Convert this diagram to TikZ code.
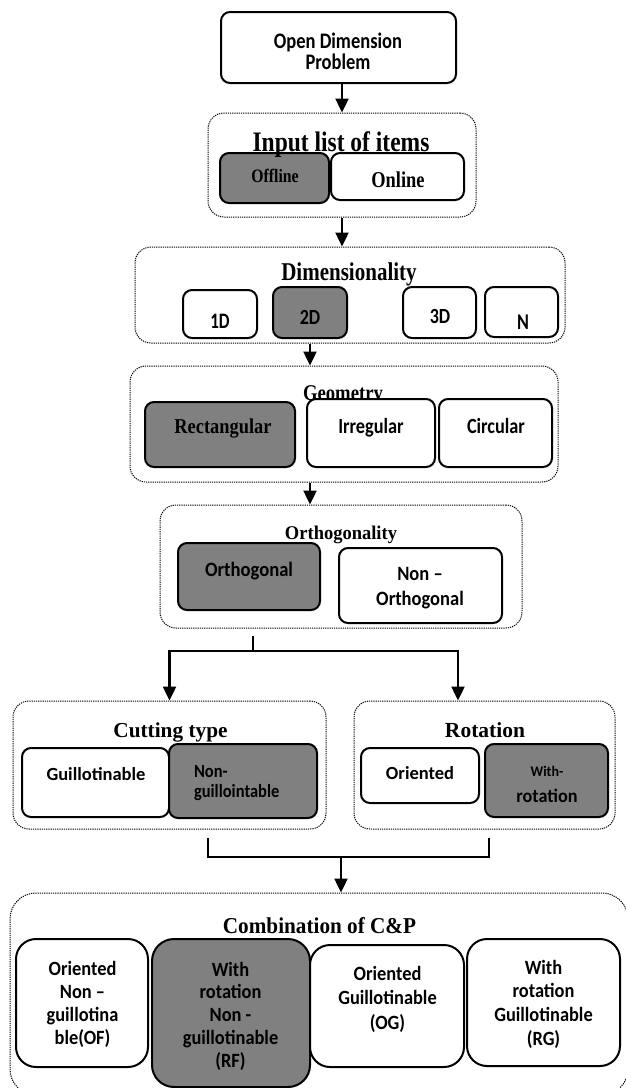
\documentclass[tikz,border=0pt]{standalone}
\usepackage{fontspec}
\usepackage{graphicx}
\setmainfont{Liberation Serif}
\newfontfamily\calfont{Carlito}
\usetikzlibrary{arrows.meta}
\definecolor{boxgray}{RGB}{128,128,128}
\newcommand{\vt}[2]{\scalebox{1}[#1]{\begin{tabular}[t]{@{}c@{}}#2\end{tabular}}}
\newcommand{\vl}[2]{\scalebox{1}[#1]{\begin{tabular}[t]{@{}l@{}}#2\end{tabular}}}
\newcommand{\fs}[2]{\fontsize{#1}{#2}\selectfont}
\tikzset{
  grp/.style={draw, line width=1pt, dash pattern=on 1.2pt off 1pt, rounded corners=16pt, inner sep=0pt},
  solidbox/.style={draw, line width=2pt, rounded corners=9pt, fill=white, inner sep=0pt},
  graybox/.style={solidbox, fill=boxgray},
  bigbox/.style={solidbox, rounded corners=20pt},
  biggray/.style={graybox, rounded corners=22pt},
  conn/.style={line width=2.4pt, -{Triangle[width=13pt,length=14pt]}},
  plainline/.style={line width=2pt},
  txt/.style={inner sep=0pt, outer sep=0pt, anchor=base},
}
\begin{document}
\begin{tikzpicture}[x=1pt,y=-1pt]
\useasboundingbox (0,0) rectangle (626,1088);
\clip (0,0) rectangle (626,1088);

% containers
\node[grp, minimum width=268pt, minimum height=104pt] (c1) at (342,165) {};
\node[grp, minimum width=430pt, minimum height=96pt] (c2) at (350,295) {};
\node[grp, minimum width=428pt, minimum height=116pt] (c3) at (344,424) {};
\node[grp, minimum width=362pt, minimum height=123pt] (c4) at (341,566.5) {};
\node[grp, minimum width=313pt, minimum height=128pt] (c5) at (169.5,765) {};
\node[grp, minimum width=261pt, minimum height=128pt] (c6) at (484.5,765) {};
\node[grp, rounded corners=26pt, minimum width=618pt, minimum height=202pt] (c7) at (319,994) {};

% container titles (under the boxes)
\node[txt, font=\bfseries\fs{21}{25}] (t2) at (349,280) {\vt{1.22}{Dimensionality}};
\node[txt, font=\bfseries\fs{18.7}{22}] (t3) at (343,400) {\vt{1.2}{Geometry}};
\node[txt, font=\bfseries\fs{18.5}{22}] (t4) at (341,539) {\vt{1.05}{Orthogonality}};
\node[txt, font=\bfseries\fs{21.3}{25}] (t5) at (170.5,737) {\vt{1.0}{Cutting type}};
\node[txt, font=\bfseries\fs{21.5}{25}] (t6) at (485,737) {\vt{1.0}{Rotation}};
\node[txt, font=\bfseries\fs{21.2}{25}] (t7) at (319.5,933) {\vt{1.07}{Combination of C\&P}};

% boxes
\node[solidbox, minimum width=235pt, minimum height=71pt] (top) at (338.5,47.5) {};
\node[graybox, minimum width=109pt, minimum height=50pt] (offl) at (274.5,178) {};
\node[solidbox, minimum width=133pt, minimum height=47pt] (onl) at (397.5,176.5) {};
\node[solidbox, minimum width=74pt, minimum height=48pt] (oneD) at (220,314) {};
\node[graybox, minimum width=74pt, minimum height=51pt] (twoD) at (310,312.5) {};
\node[solidbox, minimum width=73pt, minimum height=51pt] (threeD) at (439.5,312.5) {};
\node[solidbox, minimum width=73pt, minimum height=50pt] (nD) at (521.5,312) {};
\node[graybox, minimum width=150pt, minimum height=65pt] (rect) at (220,434.5) {};
\node[solidbox, minimum width=128pt, minimum height=68pt] (irr) at (371,433) {};
\node[solidbox, minimum width=113pt, minimum height=68pt] (circ) at (495.5,433) {};
\node[graybox, minimum width=142pt, minimum height=67pt] (orth) at (249,576.5) {};
\node[solidbox, minimum width=163pt, minimum height=75pt] (nonorth) at (420.5,585.5) {};
\node[solidbox, minimum width=147pt, minimum height=69pt] (guil) at (95.5,782.5) {};
\node[graybox, minimum width=148pt, minimum height=74pt] (nonguil) at (243,781) {};
\node[solidbox, minimum width=118pt, minimum height=55pt] (orient) at (420,775.5) {};
\node[graybox, minimum width=123pt, minimum height=73pt] (withrot) at (546.5,780.5) {};
\node[bigbox, minimum width=132pt, minimum height=128pt] (of) at (82,1003) {};
\node[biggray, minimum width=158pt, minimum height=148pt] (rf) at (231,1013) {};
\node[bigbox, minimum width=154pt, minimum height=122pt] (og) at (387,1006) {};
\node[bigbox, minimum width=153pt, minimum height=127pt] (rg) at (543.5,1002.5) {};

% title drawn over its boxes
\node[txt, font=\bfseries\fs{23.5}{28}] (t1) at (341,151) {\vt{1.2}{Input list of items}};

% box texts
\node[txt, font=\calfont\bfseries\fs{18.5}{17.5}] (ttop) at (338,48) {\vt{1.2}{Open Dimension\\Problem}};
\node[txt, font=\bfseries\fs{15.8}{19}] (toffl) at (275,182) {\vt{1.2}{Offline}};
\node[txt, font=\bfseries\fs{18.4}{22}] (tonl) at (398,187) {\vt{1.23}{Online}};
\node[txt, font=\calfont\bfseries\fs{17}{20}] (toneD) at (220,328) {\vt{1.3}{1D}};
\node[txt, font=\calfont\bfseries\fs{18}{21}] (ttwoD) at (310,324) {\vt{1.2}{2D}};
\node[txt, font=\calfont\bfseries\fs{18}{21}] (tthreeD) at (440,323) {\vt{1.2}{3D}};
\node[txt, font=\calfont\bfseries\fs{18}{21}] (tnD) at (523,329) {\vt{1.25}{N}};
\node[txt, font=\bfseries\fs{18.4}{22}] (trect) at (223,433) {\vt{1.15}{Rectangular}};
\node[txt, font=\calfont\bfseries\fs{18.3}{22}] (tirr) at (371,433) {\vt{1.18}{Irregular}};
\node[txt, font=\calfont\bfseries\fs{18.3}{22}] (tcirc) at (496,433) {\vt{1.18}{Circular}};
\node[txt, font=\calfont\bfseries\fs{18.6}{22}] (torth) at (249,576) {\vt{1.1}{Orthogonal}};
\node[txt, font=\calfont\bfseries\fs{18.5}{23.6}] (tnonorth) at (420,580) {\vt{1.1}{Non –\\Orthogonal}};
\node[txt, font=\calfont\bfseries\fs{18.5}{22}] (tguil) at (96,780) {\vt{1.0}{Guillotinable}};
\node[txt, anchor=base west, font=\calfont\bfseries\fs{16.5}{17.7}] (tnonguil) at (194,777) {\vl{1.13}{Non-\\guillointable}};
\node[txt, font=\calfont\bfseries\fs{18.5}{22}] (torient) at (420,779) {\vt{1.0}{Oriented}};
\node[txt, font=\calfont\bfseries\fs{18.2}{24.8}] (twithrot) at (547,776) {\vt{1.05}{{\fs{14}{16}With-}\\rotation}};
\node[txt, font=\calfont\bfseries\fs{18.4}{21.2}] (tof) at (82.5,975) {\vt{1.1}{Oriented\\Non –\\guillotina\\ble(OF)}};
\node[txt, font=\calfont\bfseries\fs{18.4}{20.7}] (trf) at (230.5,976) {\vt{1.1}{With\\rotation\\Non -\\guillotinable\\(RF)}};
\node[txt, font=\calfont\bfseries\fs{18.4}{22.3}] (tog) at (387.5,980) {\vt{1.1}{Oriented\\Guillotinable\\(OG)}};
\node[txt, font=\calfont\bfseries\fs{18.4}{21.8}] (trg) at (543.5,974) {\vt{1.1}{With\\rotation\\Guillotinable\\(RG)}};

% connectors
\draw[conn] (c1.north |- top.south) -- (c1.north);
\draw[conn] (c1.south) -- (c1.south |- c2.north);
\draw[conn] (twoD.south |- c2.south) -- (twoD.south |- c3.north);
\draw[conn] (twoD.south |- c3.south) -- (twoD.south |- c4.north);
\coordinate (sp) at (253,636);
\coordinate (jn) at (253,651);
\coordinate (rt) at (458,651);
\draw[plainline] (sp) -- (jn);
\draw[conn] (jn) -| (c5.north);
\draw[conn] (jn) -| (rt |- c6.north);
\coordinate (ml) at (208,838);
\coordinate (mr) at (489,838);
\coordinate (mb) at (341,857);
\draw[plainline] (ml) |- (mb) -| (mr);
\draw[conn] (mb) -- (mb |- c7.north);
\end{tikzpicture}
\end{document}
